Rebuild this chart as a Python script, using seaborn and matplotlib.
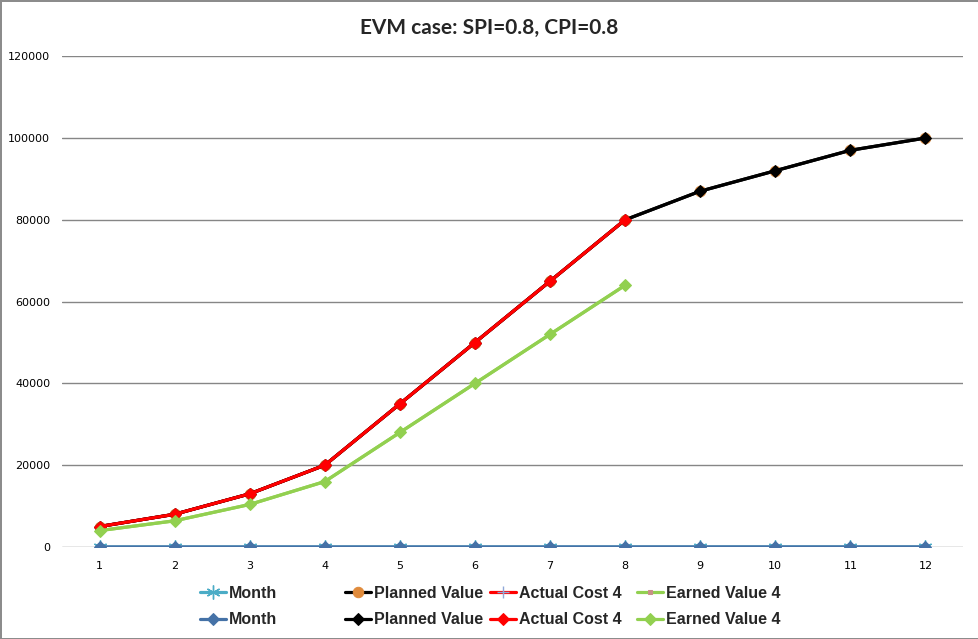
import numpy as np
import pandas as pd
import seaborn as sns
import matplotlib.pyplot as plt

# data
months = [1, 2, 3, 4, 5, 6, 7, 8, 9, 10, 11, 12]
planned_value = [5000, 8000, 13000, 20000, 35000, 50000, 65000, 80000, 87000, 92000, 97000, 100000]
actual_cost = [5000, 8000, 13000, 20000, 35000, 50000, 65000, 80000]
earned_value = [4000, 6400, 10400, 16000, 28000, 40000, 52000, 64000]
yticks = [0, 20000, 40000, 60000, 80000, 100000, 120000]

sns.set_style("white")
plt.rcParams["font.family"] = ["DejaVu Sans"]

fig = plt.figure(figsize=(9.79, 6.39), dpi=100, linewidth=2, edgecolor="#8c8c8c")
ax = fig.add_axes([0.0633, 0.144, 0.9204, 0.768])

lw = 2.3
# first set of series (mostly hidden under the second set)
sns.lineplot(x=months, y=months, color="#4bacc6", lw=lw, marker=(6, 2, 0), markersize=10,
             mec="#4bacc6", mew=1, label="Month", ax=ax)
sns.lineplot(x=months, y=planned_value, color="black", lw=lw, marker="o", markersize=7.5,
             mfc="#e08b3c", mec="#e08b3c", label="Planned Value", ax=ax)
sns.lineplot(x=months[:8], y=actual_cost, color="red", lw=lw, marker="+", markersize=8,
             mec="#8fa8d8", mew=1, label="Actual Cost 4", ax=ax)
sns.lineplot(x=months[:8], y=earned_value, color="#92d050", lw=lw, marker="s", markersize=3,
             mfc="#c89088", mec="#c89088", label="Earned Value 4", ax=ax)
# second set
sns.lineplot(x=months, y=months, color="#4572a7", lw=lw, marker="D", markersize=6.5,
             mec="#4572a7", label="Month", ax=ax)
sns.lineplot(x=months, y=planned_value, color="black", lw=lw, marker="D", markersize=6.5,
             mec="black", label="Planned Value", ax=ax)
sns.lineplot(x=months[:8], y=actual_cost, color="red", lw=lw, marker="D", markersize=6.5,
             mec="red", label="Actual Cost 4", ax=ax)
sns.lineplot(x=months[:8], y=earned_value, color="#92d050", lw=lw, marker="D", markersize=6.5,
             mec="#92d050", label="Earned Value 4", ax=ax)

ax.set_xlim(0.5, 12.5)
ax.set_ylim(0, 120000)
ax.set_xticks(months)
ax.set_yticks(yticks)
ax.set_yticklabels([str(v) for v in yticks])
ax.tick_params(axis="both", length=0, labelsize=8, colors="black")
ax.tick_params(axis="y", pad=8.5)
ax.tick_params(axis="x", pad=10)
for y in yticks:
    ax.axhline(y, color="#868686", lw=1, zorder=0)
sns.despine(ax=ax, left=True, bottom=True)

fig.suptitle("EVM case: SPI=0.8, CPI=0.8", y=0.972, fontsize=15, fontweight="bold",
             family="Lato")

# Excel-style legend: four columns of two entries each
h, l = ax.get_legend_handles_labels()
ax.get_legend().remove()
col_x = [200, 345, 490, 637]
for k, x in enumerate(col_x):
    leg = fig.legend([h[k], h[k + 4]], [l[k], l[k + 4]], loc="upper left",
                     bbox_to_anchor=(x / 979, 1 - 586 / 639), frameon=False,
                     borderpad=0, borderaxespad=0, handlelength=1.6, handletextpad=0.2,
                     labelspacing=0.7,
                     prop={"family": "Liberation Sans", "weight": "bold", "size": 11.5})

fig.savefig("out.png", dpi=100)
